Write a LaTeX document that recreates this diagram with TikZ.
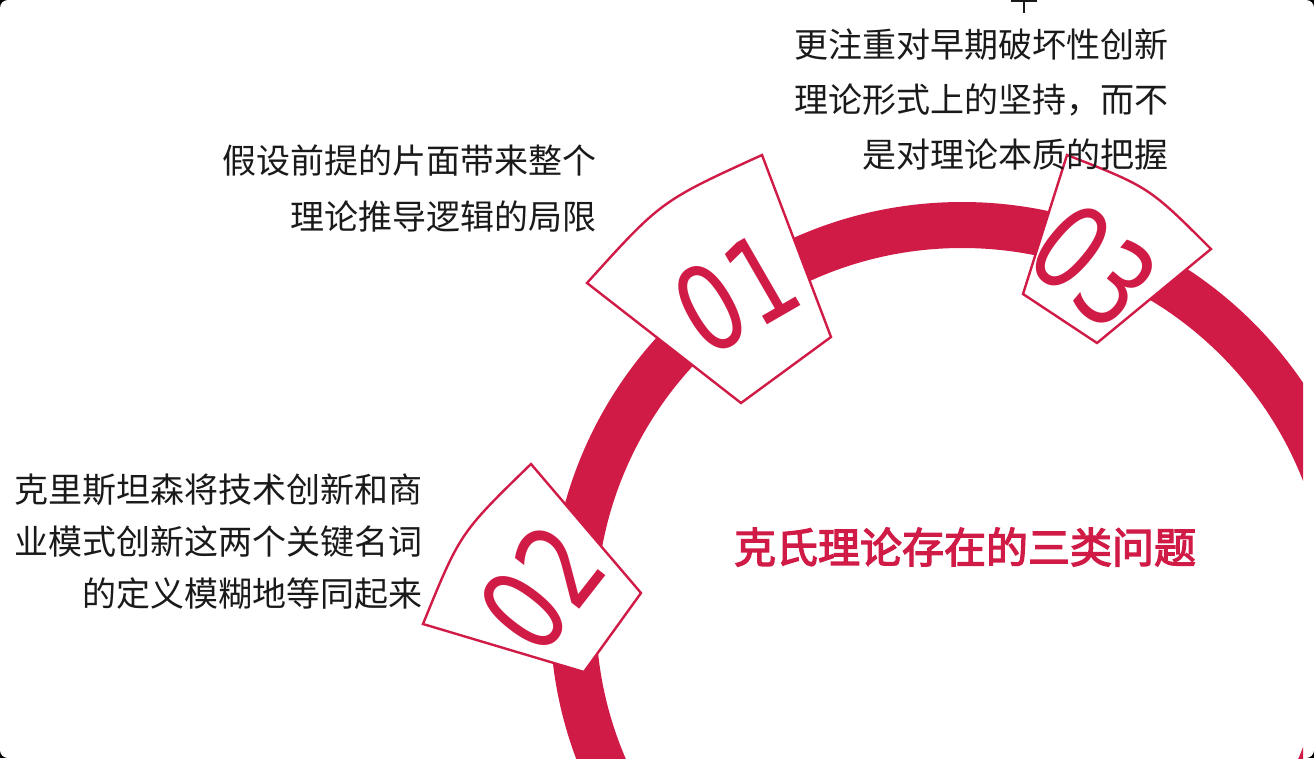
\documentclass[tikz,border=0pt]{standalone}
\usepackage{fontspec}
\setmainfont{Noto Sans CJK SC}
\newfontfamily\titlefont[FakeBold=3]{Noto Sans CJK SC}
\newfontfamily\digitfont{DejaVu Sans}
\usetikzlibrary{calc,positioning}
\definecolor{krimson}{RGB}{209,27,71}
\definecolor{inktext}{RGB}{26,26,26}

\begin{document}
\begin{tikzpicture}[x=1pt,y=-1pt,
  numbox/.style={draw=krimson,line width=2.4pt,fill=white,line join=miter},
  numtext/.style={text=krimson,inner sep=0pt,
    font=\digitfont\fontsize{118}{118}\selectfont},
  bodytext/.style={text=inktext,align=right,inner sep=0pt}]
% frame
\fill[black] (0,0) rectangle (1314,758);
\fill[white,rounded corners=8pt] (0,0) rectangle (1314,758);
\useasboundingbox (0,0) rectangle (1314,758);
% ring
\begin{scope}
\clip (0,0) rectangle (1303,758);
\draw[krimson,line width=46pt] (962,614) circle[radius=389pt];
\end{scope}
% box 01
\draw[numbox] (587,283) .. controls (661,201) .. (762,155)
  -- (831,337) -- (741,403) -- cycle;
\node[numtext,rotate=30,xscale=0.78] (n01) at (736,293) {01};
% box 02
\draw[numbox] (423,624) .. controls (460,533) .. (531,464)
  -- (641,593) -- (584,672) -- cycle;
\node[numtext,rotate=52,xscale=0.78] (n02) at (542,588) {02};
% box 03
\draw[numbox] (1067,155) .. controls (1149,187) .. (1211,249)
  -- (1097,343) -- (1023,294) -- cycle;
\node[numtext,rotate=-40,xscale=0.78] (n03) at (1094,266) {03};
% texts
\node[bodytext,anchor=east,font=\fontsize{34}{56}\selectfont] (t01) at (597,188)
  {假设前提的片面带来整个\\理论推导逻辑的局限};
\node[bodytext,anchor=east,font=\fontsize{34}{52}\selectfont] (t02) at (423,542)
  {克里斯坦森将技术创新和商\\业模式创新这两个关键名词\\的定义模糊地等同起来};
\node[bodytext,anchor=east,font=\fontsize{34}{55}\selectfont] (t03) at (1169,100)
  {更注重对早期破坏性创新\\理论形式上的坚持，而不\\是对理论本质的把握};
\node[text=krimson,inner sep=0pt,font=\titlefont\fontsize{42}{42}\selectfont] (title) at (965,547)
  {克氏理论存在的三类问题};
% stray mark at top
\draw[inktext,line width=1.5pt] (1011,1) -- (1037,1) (1024,1) -- (1024,13);
\end{tikzpicture}
\end{document}
